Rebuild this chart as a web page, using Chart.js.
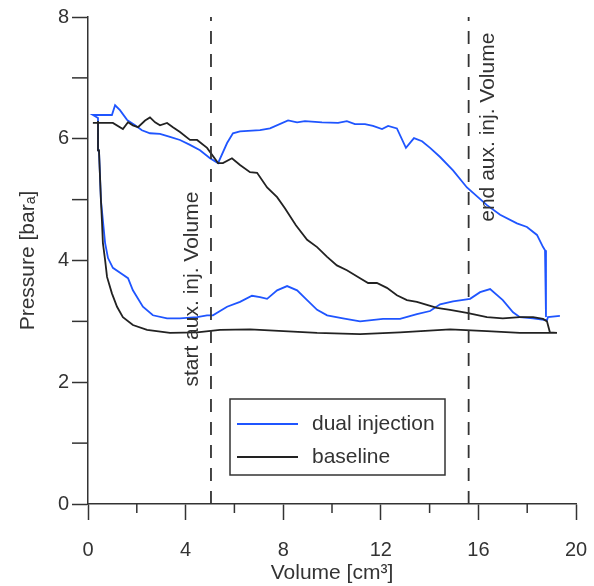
<!DOCTYPE html>
<html>
<head>
<meta charset="utf-8">
<script src="https://cdn.jsdelivr.net/npm/chart.js@4"></script>
<style>
html,body{margin:0;padding:0;background:#fff;}
</style>
</head>
<body>
<canvas id="pv" width="594" height="586"></canvas>
<script>
// dual injection loop (bottom right -> left, then top left -> right)
var dualX = [19.34, 18.85, 18.81, 18.24, 17.7, 17.42, 17.0, 16.48, 16.07, 15.66, 14.96, 14.43, 14.02, 13.48, 12.79, 12.09, 11.15, 10.45, 9.8, 9.39, 8.98, 8.57, 8.16, 7.75, 7.34, 7.05, 6.72, 6.23, 5.7, 5.12, 4.88, 4.47, 3.77, 3.24, 2.66, 2.25, 1.84, 1.64, 1.39, 1.02, 0.82, 0.7, 0.61, 0.53, 0.45, 0.41, 0.2, 0.98,
  1.11, 1.31, 1.6, 1.93, 2.21, 2.54, 2.95, 3.36, 3.77, 4.18, 4.59, 5.0, 5.33, 5.7, 5.94, 6.23, 7.05, 7.46, 8.2, 8.57, 8.89, 9.59, 10.25, 10.61, 10.94, 11.35, 11.68, 12.05, 12.3, 12.66, 13.03, 13.36, 13.69, 14.02, 14.43, 14.96, 15.53, 16.35, 16.89, 17.58, 17.99, 18.4, 18.65, 18.73, 18.77];
var dualY = [3.09, 3.07, 3.02, 3.05, 3.07, 3.15, 3.35, 3.53, 3.48, 3.37, 3.33, 3.28, 3.17, 3.12, 3.04, 3.04, 3.0, 3.05, 3.1, 3.19, 3.35, 3.51, 3.58, 3.51, 3.37, 3.4, 3.42, 3.32, 3.24, 3.1, 3.1, 3.07, 3.05, 3.05, 3.1, 3.24, 3.51, 3.71, 3.78, 3.88, 4.04, 4.29, 4.66, 4.99, 5.81, 6.34, 6.39, 6.39,
  6.55, 6.47, 6.31, 6.22, 6.14, 6.09, 6.08, 6.03, 5.98, 5.9, 5.81, 5.68, 5.6, 5.93, 6.09, 6.12, 6.14, 6.17, 6.3, 6.27, 6.29, 6.27, 6.26, 6.29, 6.24, 6.24, 6.21, 6.16, 6.21, 6.17, 5.85, 6.01, 5.96, 5.85, 5.7, 5.48, 5.2, 4.91, 4.75, 4.61, 4.55, 4.42, 4.22, 4.17, 3.07];

// baseline loop (top left -> right, then bottom right -> left)
var baseX = [0.2, 1.02, 1.43, 1.64, 1.84, 2.05, 2.34, 2.54, 2.75, 2.95, 3.24, 3.48, 3.77, 4.18, 4.47, 4.88, 5.33, 5.53, 5.9, 6.23, 6.64, 6.93, 7.34, 7.75, 8.07, 8.52, 8.98, 9.39, 9.8, 10.2, 10.61, 11.15, 11.48, 11.84, 12.25, 12.66, 13.07, 13.48, 13.89, 14.3, 14.84, 15.53, 16.35, 17.0, 17.7, 18.24, 18.65, 18.81, 18.93, 19.22,
  18.93, 17.7, 16.35, 14.84, 12.79, 11.15, 9.39, 6.64, 5.41, 4.47, 3.36, 2.42, 1.84, 1.43, 1.19, 0.98, 0.78, 0.7, 0.61, 0.57, 0.53, 0.45, 0.41];
var baseY = [6.26, 6.26, 6.16, 6.27, 6.22, 6.19, 6.3, 6.35, 6.27, 6.22, 6.26, 6.19, 6.11, 5.98, 5.98, 5.85, 5.6, 5.6, 5.68, 5.57, 5.45, 5.44, 5.2, 5.04, 4.86, 4.58, 4.34, 4.22, 4.06, 3.92, 3.84, 3.71, 3.63, 3.63, 3.55, 3.43, 3.35, 3.32, 3.27, 3.22, 3.19, 3.14, 3.07, 3.05, 3.07, 3.07, 3.04, 3.0, 2.82, 2.81,
  2.81, 2.81, 2.84, 2.87, 2.82, 2.79, 2.81, 2.87, 2.86, 2.82, 2.81, 2.86, 2.94, 3.07, 3.24, 3.46, 3.73, 4.01, 4.29, 4.66, 4.99, 5.81, 6.29];

var startAux = 5.04;
var endAux = 15.6;

var xMajor = [0, 4, 8, 12, 16, 20];
var xMinor = [2, 6, 10, 14, 18];
var yMajor = [0, 2, 4, 6, 8];
var yMinor = [1, 3, 5, 7];

var seriesNames = ["dual injection", "baseline"];

function pts(xs, ys) {
  var out = [];
  for (var i = 0; i < xs.length; i++) out.push({x: xs[i], y: ys[i]});
  return out;
}

var FONT = "'Liberation Sans', Arial, sans-serif";
var INK = "#333";
Chart.defaults.font.family = FONT;
Chart.defaults.color = INK;

var extras = {
  id: "extras",
  afterDraw: function(chart) {
    var ctx = chart.ctx, xs = chart.scales.x, ys = chart.scales.y;
    var a = chart.chartArea;
    ctx.save();
    ctx.strokeStyle = INK;
    ctx.lineWidth = 1.5;
    // minor ticks
    xMinor.forEach(function(v) {
      var px = xs.getPixelForValue(v);
      ctx.beginPath(); ctx.moveTo(px, a.bottom); ctx.lineTo(px, a.bottom + 9); ctx.stroke();
    });
    yMinor.forEach(function(v) {
      var py = ys.getPixelForValue(v);
      ctx.beginPath(); ctx.moveTo(a.left - 16, py); ctx.lineTo(a.left, py); ctx.stroke();
    });

    // rotated labels
    ctx.fillStyle = INK;
    ctx.font = "21px " + FONT;
    ctx.textAlign = "center";
    ctx.textBaseline = "middle";
    ctx.save();
    ctx.translate(xs.getPixelForValue(4.26), ys.getPixelForValue(3.53));
    ctx.rotate(-Math.PI / 2);
    ctx.fillText("start aux. inj. Volume", 0, 0);
    ctx.restore();
    ctx.save();
    ctx.translate(xs.getPixelForValue(16.4), ys.getPixelForValue(6.19));
    ctx.rotate(-Math.PI / 2);
    ctx.fillText("end aux. inj. Volume", 0, 0);
    ctx.restore();

    // legend box
    ctx.fillStyle = "#fff";
    ctx.fillRect(230, 399, 215, 76);
    ctx.strokeStyle = INK;
    ctx.lineWidth = 1.5;
    ctx.strokeRect(230, 399, 215, 76);
    var cols = ["#1f55ff", "#222"];
    var rows = [424, 457];
    for (var i = 0; i < 2; i++) {
      ctx.strokeStyle = cols[i];
      ctx.lineWidth = 1.8;
      ctx.beginPath(); ctx.moveTo(237, rows[i]); ctx.lineTo(298, rows[i]); ctx.stroke();
      ctx.fillStyle = INK;
      ctx.textAlign = "left";
      ctx.fillText(seriesNames[i], 312, rows[i]);
    }
    ctx.restore();
  }
};

new Chart("pv", {
  type: "scatter",
  data: {
    datasets: [
      {label: "start", data: [{x: startAux, y: 0}, {x: startAux, y: 8}], showLine: true, borderColor: "#333", borderWidth: 1.8, borderDash: [13, 10], pointRadius: 0},
      {label: "end", data: [{x: endAux, y: 0}, {x: endAux, y: 8}], showLine: true, borderColor: "#333", borderWidth: 1.8, borderDash: [13, 10], pointRadius: 0},
      {label: seriesNames[1], data: pts(baseX, baseY), showLine: true, borderColor: "#222", borderWidth: 1.8, pointRadius: 0, tension: 0},
      {label: seriesNames[0], data: pts(dualX, dualY), showLine: true, borderColor: "#1f55ff", borderWidth: 1.8, pointRadius: 0, tension: 0}
    ]
  },
  options: {
    responsive: false,
    animation: false,
    layout: {padding: {top: 17, right: 18, left: 0, bottom: 0}},
    plugins: {legend: {display: false}, tooltip: {enabled: false}},
    scales: {
      x: {
        type: "linear", min: 0, max: 20,
        afterBuildTicks: function(s) { s.ticks = xMajor.map(function(v) { return {value: v}; }); },
        afterFit: function(s) { s.height = 82; s.paddingLeft = 0; s.paddingRight = 0; },
        grid: {drawOnChartArea: false, drawTicks: true, tickLength: 16, tickColor: INK, tickWidth: 1.5},
        border: {display: true, color: INK, width: 1.5},
        ticks: {font: {size: 20}, color: INK, padding: 18, maxRotation: 0},
        title: {display: true, text: "Volume [cm³]", font: {size: 21}, color: INK, padding: {top: 0, bottom: 0}}
      },
      y: {
        type: "linear", min: 0, max: 8,
        afterBuildTicks: function(s) { s.ticks = yMajor.map(function(v) { return {value: v}; }); },
        afterFit: function(s) { s.width = 88; s.paddingTop = 0; s.paddingBottom = 0; },
        grid: {drawOnChartArea: false, drawTicks: true, tickLength: 16, tickColor: INK, tickWidth: 1.5},
        border: {display: true, color: INK, width: 1.5},
        ticks: {font: {size: 20}, color: INK, padding: 3},
        title: {display: true, text: "Pressure [barₐ]", font: {size: 21}, color: INK, padding: {top: 16, bottom: 0}}
      }
    }
  },
  plugins: [extras]
});
</script>
</body>
</html>
